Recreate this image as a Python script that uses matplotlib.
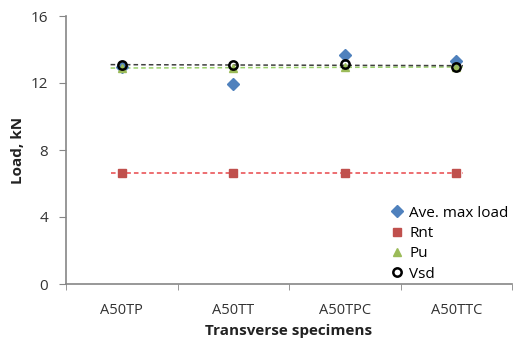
import numpy as np
import matplotlib
matplotlib.use("Agg")
import matplotlib.pyplot as plt

plt.rcParams['font.family'] = ['Open Sans', 'DejaVu Sans']

specimens = ["A50TP", "A50TT", "A50TPC", "A50TTC"]
ave_max_load = [12.95, 11.95, 13.7, 13.3]
rnt = [6.6, 6.6, 6.6, 6.6]
pu = [12.9, 12.9, 12.95, 12.95]
vsd = [13.08, 13.05, 13.15, 12.98]

fig = plt.figure(figsize=(5.13, 3.42), dpi=100)
ax = fig.add_axes([66/513, 1-284/342, 446/513, 268/342])

x = np.arange(len(specimens))
xt = np.array([-0.1, 3.06])

# linear trendlines for the three reference series
for vals, col in [(rnt, '#E8474A'), (pu, '#9BD16A'), (vsd, '#404040')]:
    k, b = np.polyfit(x, vals, 1)
    ax.plot(xt, k*xt + b, ls=(0, (3, 2)), color=col, lw=1.1, zorder=2)

ax.plot(x, ave_max_load, 'D', color='#4F81BD', ms=6, label='Ave. max load', zorder=3)
ax.plot(x, rnt, 's', color='#C0504D', ms=6, label='Rnt', zorder=3)
ax.plot(x, pu, '^', color='#9BBB59', ms=6, label='Pu', zorder=4)
ax.plot(x, vsd, 'o', mfc='none', mec='black', mew=1.8, ms=6, label='Vsd', zorder=5)

ax.set_xlim(-0.5, 3.5)
ax.set_ylim(0, 16)
ax.set_yticks([0, 4, 8, 12, 16])
ax.set_xticks(x)
ax.set_xticklabels(specimens)
ax.set_xticks(np.arange(-0.5, 4, 1), minor=True)
ax.tick_params(axis='x', which='major', length=0, pad=14, labelsize=10.5, labelcolor='#333333')
ax.tick_params(axis='x', which='minor', length=4, color='#868686')
ax.tick_params(axis='y', length=5, color='#868686', labelsize=11, labelcolor='#333333', pad=8)
for s in ['top', 'right']:
    ax.spines[s].set_visible(False)
for s in ['left', 'bottom']:
    ax.spines[s].set_color('#868686')
    ax.spines[s].set_linewidth(1.2)

ax.set_ylabel('Load, kN', fontweight='bold', fontsize=11, labelpad=4, color='#222222')
ax.set_xlabel('Transverse specimens', fontweight='bold', fontsize=11, labelpad=4, color='#222222')

ax.legend(loc='lower right', bbox_to_anchor=(1.01, -0.02), frameon=False, fontsize=11,
          handlelength=0.8, handletextpad=0.4, labelspacing=0.35, borderaxespad=0.1)

fig.savefig('out.png', dpi=100)
